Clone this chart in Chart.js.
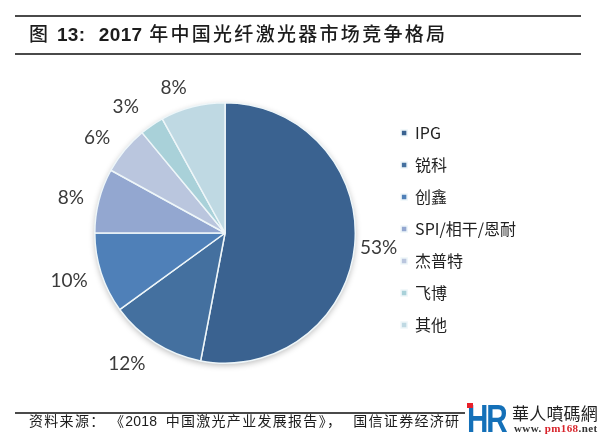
<!DOCTYPE html>
<html><head><meta charset="utf-8">
<script src="https://cdn.jsdelivr.net/npm/chart.js@4"></script>
<style>
html,body{margin:0;padding:0;background:#fff;width:600px;height:447px;overflow:hidden}
#wrap{position:relative;width:600px;height:447px;font-family:"Noto Sans CJK SC","Liberation Sans",sans-serif;color:#1c1c1c}
canvas{position:absolute;left:0;top:0}
.rule{position:absolute;left:15px;width:566px;height:2px;background:#4a4a4a}
#title{position:absolute;left:29px;top:19px;font-size:19px;font-weight:500;letter-spacing:2.3px;white-space:nowrap;line-height:28px}
#title b{font-family:"Liberation Sans";font-weight:700;letter-spacing:.4px}
#source{position:absolute;left:29px;top:409px;font-size:14px;letter-spacing:1.3px;white-space:nowrap;line-height:20px;width:436px;overflow:hidden;padding-top:1px}
#source i{font-style:normal;font-family:"Liberation Sans";letter-spacing:.2px;margin-right:4px}
#source u{text-decoration:none;margin-left:11px}
#logo{position:absolute;left:465px;top:403px;width:135px;height:44px;background:#fff}
#hr{position:absolute;left:2px;top:-2px;font:700 39px/36px "Liberation Sans";color:#1470b8;letter-spacing:-3px;transform:scale(.76,1);transform-origin:left top}
#dot{position:absolute;left:2px;top:0;width:6px;height:5px;background:#e8202a}
#cn{position:absolute;left:47px;top:-1px;font-size:17px;line-height:22px;letter-spacing:.2px;color:#222;white-space:nowrap}
#url{position:absolute;left:49px;top:19px;font:700 11px/13px "Liberation Serif";letter-spacing:.4px;color:#333;white-space:nowrap}
#url span{color:#d8232a}
</style></head>
<body><div id="wrap">
<canvas id="c" width="600" height="447"></canvas>
<div class="rule" style="top:15px"></div>
<div class="rule" style="top:53px"></div>
<div id="title">图 <b>13:</b>&nbsp;&nbsp;<b>2017</b> 年中国光纤激光器市场竞争格局</div>
<div class="rule" style="top:412px"></div>
<div id="source">资料来源： 《<i>2018</i> 中国激光产业发展报告》，<u>国信证券经济研</u></div>
<div id="logo"><div id="hr">HR</div><div id="dot"></div><div id="cn">華人噴碼網</div><div id="url">www. <span>pm168</span>.net</div></div>
</div>
<script>
const categories = ["IPG","锐科","创鑫","SPI/相干/恩耐","杰普特","飞博","其他"];
const shares = [53,12,10,8,6,3,8];
const sliceColors = ["#3a6290","#44709f","#4f80b8","#93a7d0","#bac6de","#a9d1d9","#bfd9e3"];
const labelOffsets = [24,33,33,28,29,30,24];
const labelTurns = [0,4.6,0.8,-1.5,-3.1,-4.1,-5.1];

const pieShadow = {
  id:"pieShadow",
  beforeDatasetsDraw(chart){
    const {ctx} = chart, a = chart.getDatasetMeta(0).data[0];
    ctx.save();
    ctx.shadowColor = "rgba(0,0,0,.28)";
    ctx.shadowBlur = 6;
    ctx.shadowOffsetY = 2;
    ctx.fillStyle = "#fff";
    ctx.beginPath();
    ctx.arc(a.x,a.y,a.outerRadius,0,Math.PI*2);
    ctx.fill();
    ctx.restore();
  }
};
const pctLabels = {
  id:"pctLabels",
  afterDatasetsDraw(chart){
    const {ctx} = chart, arcs = chart.getDatasetMeta(0).data;
    ctx.save();
    ctx.font = '19px Lato,"Open Sans",sans-serif';
    ctx.fillStyle = "#3a3a3a";
    ctx.textAlign = "center";
    ctx.textBaseline = "middle";
    arcs.forEach((a,i)=>{
      const mid = (a.startAngle+a.endAngle)/2 + labelTurns[i]*Math.PI/180, r = a.outerRadius+labelOffsets[i];
      ctx.fillText(shares[i]+"%", a.x+Math.cos(mid)*r, a.y+Math.sin(mid)*r);
    });
    ctx.restore();
  }
};
const legendNudge = {
  id:"legendNudge",
  afterLayout(chart){ chart.legend.top -= 4; chart.legend.bottom -= 4; }
};

new Chart(document.getElementById("c"),{
  type:"pie",
  data:{labels:categories,datasets:[{data:shares,backgroundColor:sliceColors,borderColor:"#eef6f9",borderWidth:1.5}]},
  options:{
    responsive:false,animation:false,devicePixelRatio:1,
    layout:{padding:{left:65,right:74,top:102,bottom:83}},
    plugins:{
      tooltip:{enabled:false},
      legend:{position:"right",align:"center",
        labels:{boxWidth:6,boxHeight:6,padding:16,color:"#222",font:{size:16,family:'"Noto Sans CJK SC","Liberation Sans",sans-serif'}}}
    }
  },
  plugins:[pieShadow,pctLabels,legendNudge]
});
</script>
</body></html>
